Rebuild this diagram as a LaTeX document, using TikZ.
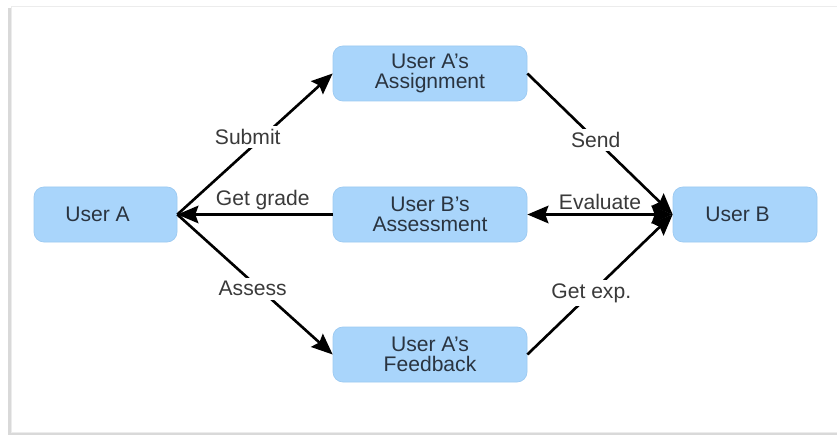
\documentclass[tikz,border=0pt]{standalone}
\usepackage{fontspec}
\setmainfont{Liberation Sans}
\usetikzlibrary{arrows.meta}

\definecolor{boxblue}{HTML}{A9D5FB}
\definecolor{boxedge}{HTML}{9CCAF2}
\definecolor{boxtext}{HTML}{2A3440}
\definecolor{lbltext}{HTML}{3A3A3A}

\begin{document}
\begin{tikzpicture}[
        box/.style={draw=boxedge, fill=boxblue, rounded corners=0.2cm, minimum height=1.1cm,
            align=center, text=boxtext, font=\fontsize{12}{11.3}\selectfont},
        tip/.tip={Stealth[length=12pt, width=10pt, inset=1.8pt]},
        flow/.style={line width=1.5pt, -tip},
        lbl/.style={fill=white, text=lbltext, inner sep=2pt, font=\fontsize{12}{14}\selectfont}
    ]
                \useasboundingbox (0, 0) rectangle (16.74, -8.72);
                % paper with a soft edge on the left and at the bottom
                \fill[gray!30] (0.16, -0.16) rectangle (17, -8.70);
                \fill[white, draw=gray!15] (0.22, -0.12) rectangle (17, -8.64);

                \node[box, minimum width=2.86cm] (UA) at (2.11, -4.29) {User A\hspace*{0.32cm}};
                \node[box, minimum width=3.88cm] (AS) at (8.6, -1.47) {User A's\\Assignment};
                \node[box, minimum width=3.88cm] (AM) at (8.6, -4.29) {User B's\\Assessment};
                \node[box, minimum width=3.88cm] (FB) at (8.6, -7.09) {User A's\\Feedback};
                \node[box, minimum width=2.88cm] (UB) at (14.9, -4.29) {User B\hspace*{0.3cm}};

                \draw[flow] (UA.east) -- node[lbl, pos=0.55, xshift=-0.3cm] {Submit} (AS.west);
                \draw[flow] (AS.east) -- node[lbl, pos=0.47] {Send} (UB.west);
                \draw[flow] (AM.west) -- node[lbl, pos=0.45, above, fill=none] {Get grade} (UA.east);
                \draw[flow, tip-tip] (AM.east) -- node[lbl, above, fill=none] {Evaluate} (UB.west);
                \draw[flow] (UA.east) -- node[lbl, pos=0.53, xshift=-0.14cm] {Assess} (FB.west);
                \draw[flow] (FB.east) -- node[lbl, pos=0.44] {Get exp.} (UB.west);
            \end{tikzpicture}
\end{document}
